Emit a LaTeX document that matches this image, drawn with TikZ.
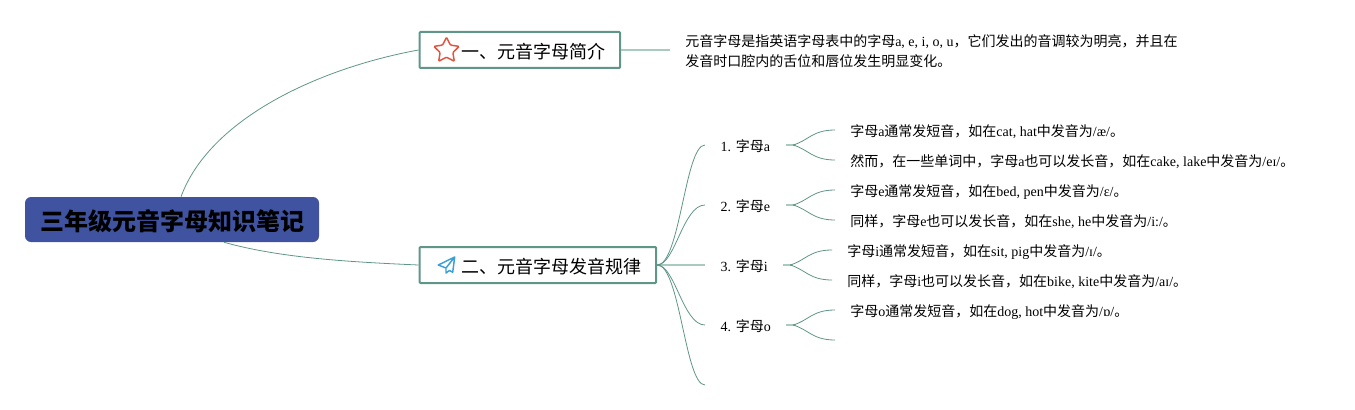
\documentclass[tikz,border=0pt]{standalone}
\usepackage{fontspec}
\setmainfont{Liberation Serif}
\newfontfamily\zhfont{Noto Sans CJK SC}
\newcommand{\zh}[1]{{\zhfont #1}}
\usetikzlibrary{shapes.geometric,positioning}
\definecolor{linkgreen}{HTML}{5F9688}
\definecolor{stemgreen}{HTML}{A9CBBF}
\definecolor{rootblue}{HTML}{3F53A1}
\definecolor{starred}{HTML}{E2543F}
\definecolor{planeblue}{HTML}{3C9FD8}

\begin{document}
\begin{tikzpicture}[
    x=0.75pt, y=-0.75pt,
    root/.style={rectangle, fill=rootblue, rounded corners=4.5pt, minimum width=220.5pt, minimum height=33.75pt, inner sep=0pt, text height=19pt, text depth=2.5pt, font=\fontsize{18}{22}\selectfont\bfseries},
    topic/.style={rectangle, draw=linkgreen, line width=1.5pt, fill=white, rounded corners=0.8pt, minimum height=27pt, inner xsep=11.25pt, inner ysep=0pt, text height=15pt, text depth=2pt, anchor=west, font=\fontsize{13.5}{16}\selectfont},
    letter/.style={rectangle, inner xsep=11.5pt, inner ysep=2pt, text height=11.4pt, text depth=2.2pt, anchor=west, font=\fontsize{10.5}{13}\selectfont},
    leaf/.style={rectangle, inner xsep=11.25pt, inner ysep=2pt, text height=12pt, text depth=2.2pt, anchor=west, font=\fontsize{10.5}{13}\selectfont},
    para/.style={rectangle, inner sep=0pt, anchor=west, align=left, font=\fontsize{10.5}{15}\selectfont},
    link/.style={linkgreen, line width=0.6pt},
    stem/.style={stemgreen, line width=1.2pt}
]
    \useasboundingbox (0,0) rectangle (1355,410);

    \node[root] (title) at (172,219.5) {\zh{三年级元音字母知识笔记}};

    \node[topic, minimum width=149.6pt] (intro) at (418.5,50) {\hspace{20pt}\zh{一、元音字母简介}};
    \node[topic, minimum width=177pt] (rules) at (418.5,265) {\hspace{20pt}\zh{二、元音字母发音规律}};

    \node[star, star points=5, star point ratio=2, draw=starred, line width=1.1pt, rounded corners=0.8pt, inner sep=0pt, minimum size=20pt] (staricon) at (446.5,50.5) {};
    \draw[planeblue, line width=1.1pt, line join=round] (454.7,257) -- (438.3,265) -- (446,268) -- (446,273) -- (449.5,270.5) -- (452.7,272.3) -- cycle (446,268) -- (454.7,257);

    \node[para] (introtext) at (685,51.5) {\zh{元音字母是指英语字母表中的字母}a, e, i, o, u\zh{，它们发出的音调较为明亮，并且在}\\\zh{发音时口腔内的舌位和唇位发生明显变化。}};
    \coordinate (introend) at (670,50);

    \node[letter] (lettera) at (705,145) {1. \zh{字母}a};
    \node[letter] (lettere) at (705,205) {2. \zh{字母}e};
    \node[letter] (letteri) at (705,265) {3. \zh{字母}i};
    \node[letter] (lettero) at (705,325) {4. \zh{字母}o};
    \coordinate (blankend) at (705,385);

    \node[leaf] (a1) at (835,130) {\zh{字母}a\zh{通常发短音，如在}cat, hat\zh{中发音为}/æ/\zh{。}};
    \node[leaf] (a2) at (835,160) {\zh{然而，在一些单词中，字母}a\zh{也可以发长音，如在}cake, lake\zh{中发音为}/eɪ/\zh{。}};
    \node[leaf] (e1) at (835,190) {\zh{字母}e\zh{通常发短音，如在}bed, pen\zh{中发音为}/ɛ/\zh{。}};
    \node[leaf] (e2) at (835,220) {\zh{同样，字母}e\zh{也可以发长音，如在}she, he\zh{中发音为}/i:/\zh{。}};
    \node[leaf] (i1) at (832,250) {\zh{字母}i\zh{通常发短音，如在}sit, pig\zh{中发音为}/ɪ/\zh{。}};
    \node[leaf] (i2) at (832,280) {\zh{同样，字母}i\zh{也可以发长音，如在}bike, kite\zh{中发音为}/aɪ/\zh{。}};
    \node[leaf] (o1) at (835,310) {\zh{字母}o\zh{通常发短音，如在}dog, hot\zh{中发音为}/ɒ/\zh{。}};
    \coordinate (o2) at (835,340);

    \draw[link] ([xshift=6.75pt]title.north) .. controls (210,118) and (320,68) .. (intro.west);
    \draw[link] ([xshift=39pt]title.south) .. controls (280,258) and (350,262) .. (rules.west);
    \draw[stem] (intro.east) -- (introend);

    \draw[stem] (rules.east) -- (letteri.west);
    \draw[link] (rules.east) .. controls (680,265) and (685,145) .. (lettera.west);
    \draw[link] (rules.east) .. controls (675,265) and (683,205) .. (lettere.west);
    \draw[link] (rules.east) .. controls (675,265) and (683,325) .. (lettero.west);
    \draw[link] (rules.east) .. controls (680,265) and (685,385) .. (blankend);

    \draw[stem] (lettera.east) -- ++(10,0);
    \draw[link] (793,145) .. controls (808,141) and (812,130) .. (a1.west);
    \draw[link] (793,145) .. controls (808,149) and (812,160) .. (a2.west);
    \draw[stem] (lettere.east) -- ++(10,0);
    \draw[link] (793,205) .. controls (808,201) and (812,190) .. (e1.west);
    \draw[link] (793,205) .. controls (808,209) and (812,220) .. (e2.west);
    \draw[stem] (letteri.east) -- ++(10,0);
    \draw[link] (790,265) .. controls (805,261) and (809,250) .. (i1.west);
    \draw[link] (790,265) .. controls (805,269) and (809,280) .. (i2.west);
    \draw[stem] (lettero.east) -- ++(10,0);
    \draw[link] (793,325) .. controls (808,321) and (812,310) .. (o1.west);
    \draw[link] (793,325) .. controls (808,329) and (812,340) .. (o2);
\end{tikzpicture}
\end{document}
